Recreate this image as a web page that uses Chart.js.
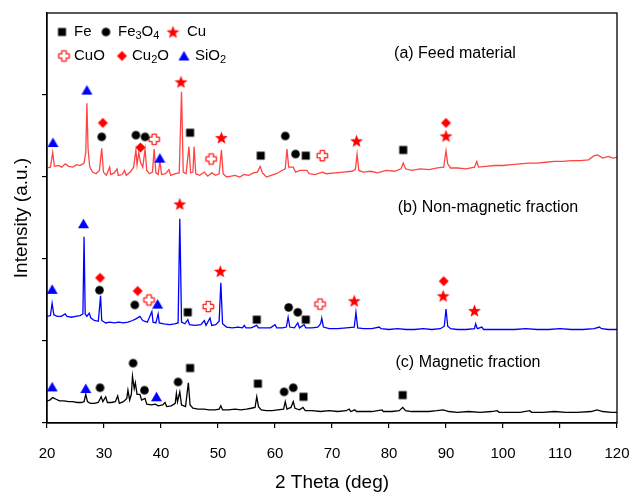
<!DOCTYPE html>
<html>
<head>
<meta charset="utf-8">
<script src="https://cdn.jsdelivr.net/npm/chart.js@4.4.1/dist/chart.umd.min.js"></script>
<style>
  html, body { margin: 0; padding: 0; background: #fff; }
  #wrap { width: 634px; height: 498px; }
</style>
</head>
<body>
<div id="wrap"><canvas id="xrdChart" width="634" height="498"></canvas></div>
<script>
// (a) feed material - 2theta / intensity (offset, a.u.)
const feedTheta = [20.0,20.6,21.0,21.3,22.0,22.6,23.2,23.8,24.5,25.2,25.8,26.5,26.8,27.0,27.2,27.5,28.0,28.6,29.2,29.6,29.9,30.4,31.0,31.2,31.8,32.3,32.5,33.2,33.6,33.9,34.6,35.2,35.6,35.8,36.1,36.4,36.8,37.2,37.5,38.0,38.5,38.8,39.1,39.5,39.8,40.1,40.8,41.4,41.7,42.5,43.2,43.6,43.9,44.4,44.9,45.2,45.6,45.8,46.1,46.8,47.6,48.2,48.9,49.6,50.2,50.6,50.9,51.5,52.3,53.0,53.8,54.6,55.4,56.2,56.9,57.4,57.8,58.5,59.3,60.2,61.0,61.8,62.1,62.4,63.2,63.6,64.4,65.6,66.0,67.0,68.3,69.0,70.5,72.0,73.5,74.1,74.4,74.7,75.5,76.8,78.0,79.5,81.0,82.1,82.5,82.9,84.0,85.5,87.0,88.5,89.6,90.0,90.3,90.8,92.0,93.5,95.0,95.4,95.7,97.0,98.5,100.0,101.5,103.0,104.5,106.0,107.5,109.0,110.5,112.0,113.5,115.0,116.0,116.6,117.5,118.5,119.3,120.0];
const feedIntensity = [3.11,3.12,3.30,3.13,3.14,3.12,3.16,3.13,3.12,3.15,3.14,3.17,3.30,3.90,3.35,3.12,3.06,3.04,3.08,3.35,3.06,3.02,3.12,3.03,3.05,3.10,3.02,3.03,3.08,3.02,3.06,3.12,3.33,3.15,3.30,3.18,3.12,3.34,3.08,3.04,3.06,3.34,3.05,3.03,3.20,3.03,3.04,3.09,3.02,3.04,3.05,4.04,3.06,3.04,3.37,3.05,3.06,3.37,3.04,3.02,3.06,3.01,3.05,3.02,3.04,3.33,3.04,3.00,3.01,3.02,3.00,3.03,3.02,3.05,3.06,3.13,3.05,3.00,3.02,3.04,3.07,3.10,3.34,3.12,3.12,3.06,3.08,3.08,3.04,3.03,3.06,3.04,3.05,3.06,3.07,3.09,3.28,3.08,3.06,3.07,3.05,3.08,3.07,3.10,3.17,3.10,3.08,3.10,3.09,3.11,3.12,3.32,3.16,3.11,3.11,3.10,3.12,3.19,3.12,3.13,3.14,3.14,3.15,3.16,3.17,3.17,3.18,3.19,3.19,3.20,3.20,3.21,3.26,3.27,3.23,3.25,3.23,3.24];

// (b) non-magnetic fraction
const nonMagTheta = [20.0,20.6,20.9,21.2,21.8,22.5,23.2,23.5,24.3,25.0,25.8,26.3,26.5,26.7,27.0,27.4,27.7,28.3,29.0,29.4,29.6,30.3,31.0,31.8,32.6,33.4,34.2,35.0,35.6,36.3,36.8,37.6,38.4,38.6,39.1,39.5,39.7,40.5,41.5,42.4,43.0,43.3,43.6,44.2,44.7,45.0,46.0,47.0,47.6,47.9,48.6,48.9,49.6,50.2,50.5,50.8,51.5,52.5,53.5,54.3,54.6,54.9,55.8,56.8,57.1,58.2,59.2,60.0,60.3,61.3,62.0,62.3,62.6,63.4,64.0,64.3,65.1,65.4,66.5,67.5,68.0,68.2,68.5,69.5,71.0,72.5,73.9,74.2,74.5,75.5,77.0,78.3,78.6,80.0,81.5,83.0,84.5,86.0,87.5,89.0,89.7,90.0,90.3,90.8,92.0,93.5,95.0,95.2,95.5,96.3,96.6,98.0,100.0,102.0,104.0,106.0,108.0,110.0,112.0,114.0,116.0,116.9,117.3,118.5,120.0];
const nonMagIntensity = [1.30,1.31,1.46,1.32,1.30,1.30,1.33,1.30,1.29,1.30,1.31,1.33,2.27,1.33,1.30,1.34,1.28,1.25,1.24,1.55,1.25,1.22,1.23,1.22,1.23,1.22,1.23,1.25,1.27,1.30,1.25,1.23,1.36,1.23,1.22,1.33,1.22,1.21,1.20,1.21,1.22,2.49,1.23,1.21,1.26,1.20,1.19,1.20,1.25,1.19,1.28,1.19,1.20,1.24,1.71,1.21,1.17,1.16,1.17,1.16,1.19,1.16,1.16,1.19,1.16,1.16,1.16,1.20,1.16,1.16,1.17,1.29,1.17,1.16,1.22,1.16,1.20,1.16,1.16,1.17,1.21,1.28,1.17,1.15,1.15,1.16,1.17,1.35,1.16,1.15,1.15,1.17,1.15,1.14,1.15,1.14,1.14,1.15,1.14,1.15,1.18,1.39,1.18,1.15,1.14,1.14,1.15,1.21,1.15,1.17,1.14,1.14,1.14,1.14,1.15,1.14,1.14,1.15,1.14,1.14,1.15,1.17,1.15,1.14,1.14];

// (c) magnetic fraction
const magTheta = [20.0,20.5,21.0,21.6,22.2,23.0,23.8,24.5,25.3,26.0,26.5,26.8,27.1,27.6,28.3,29.0,29.5,29.8,30.3,30.6,31.3,32.0,32.4,32.7,33.4,34.0,34.2,34.5,34.8,35.0,35.3,35.5,35.8,36.3,36.6,37.2,37.5,38.3,39.0,39.5,40.3,40.7,41.0,41.8,42.5,42.7,42.9,43.3,43.6,44.3,44.8,45.1,45.6,46.5,47.5,48.5,49.5,50.2,50.5,50.8,51.8,53.0,54.0,55.0,55.8,56.5,56.8,57.1,57.6,58.5,59.5,60.5,61.5,61.8,62.1,62.8,63.2,63.5,64.3,64.9,65.3,66.5,68.0,69.5,71.0,72.5,73.0,73.3,74.0,74.3,75.5,77.0,78.8,79.0,80.5,81.8,82.4,82.9,84.0,85.5,87.0,88.4,89.5,90.5,92.0,94.0,96.0,98.0,99.0,99.3,101.0,103.0,104.7,105.0,107.0,109.0,111.0,113.0,115.5,116.5,117.5,119.0,120.0];
const magIntensity = [0.27,0.28,0.31,0.29,0.27,0.27,0.26,0.26,0.25,0.25,0.26,0.35,0.26,0.24,0.24,0.25,0.32,0.26,0.32,0.25,0.25,0.26,0.33,0.24,0.26,0.30,0.40,0.28,0.35,0.57,0.42,0.49,0.35,0.35,0.28,0.30,0.23,0.22,0.23,0.21,0.22,0.25,0.20,0.21,0.24,0.36,0.26,0.38,0.22,0.20,0.49,0.22,0.18,0.17,0.17,0.16,0.16,0.17,0.21,0.16,0.16,0.17,0.16,0.17,0.18,0.19,0.32,0.20,0.16,0.15,0.15,0.16,0.17,0.26,0.17,0.19,0.26,0.18,0.16,0.19,0.15,0.15,0.14,0.15,0.14,0.15,0.17,0.14,0.16,0.14,0.14,0.14,0.16,0.14,0.14,0.15,0.19,0.15,0.14,0.14,0.14,0.15,0.16,0.14,0.13,0.14,0.13,0.14,0.15,0.13,0.13,0.13,0.15,0.13,0.13,0.14,0.13,0.13,0.14,0.16,0.14,0.13,0.13];

// phase markers [2theta, height]
const fePeaks = [[45.1,3.54],[57.5,3.26],[65.4,3.26],[82.5,3.33],[44.7,1.35],[56.8,1.26],[65.4,1.26],[45.1,0.67],[57.0,0.48],[65.0,0.32],[82.4,0.34]];
const fe3o4Peaks = [[29.6,3.49],[35.6,3.51],[37.2,3.49],[61.8,3.50],[63.6,3.28],[29.2,1.62],[35.4,1.44],[62.4,1.41],[64.0,1.35],[29.3,0.43],[35.1,0.73],[37.1,0.40],[43.0,0.50],[61.6,0.38],[63.2,0.43]];
const cuPeaks = [[43.5,4.16],[50.6,3.48],[74.3,3.44],[90.0,3.50],[43.3,2.67],[50.4,1.85],[73.9,1.49],[89.5,1.55],[95.0,1.37]];
const cuoPeaks = [[38.8,3.46],[48.8,3.22],[68.3,3.26],[37.9,1.50],[48.3,1.42],[67.9,1.45]];
const cu2oPeaks = [[29.8,3.66],[36.4,3.36],[90.0,3.66],[29.3,1.77],[35.9,1.61],[89.6,1.73]];
const sio2Peaks = [[21.05,3.42],[27.0,4.06],[39.8,3.23],[20.9,1.63],[26.4,2.43],[39.4,1.45],[20.9,0.44],[26.8,0.42],[39.2,0.32]];

const xTicks = [20,30,40,50,60,70,80,90,100,110,120];

const FONT = '"Liberation Sans", Arial, sans-serif';

function toXY(xs, ys) {
    return xs.map(function (x, i) { return { x: x, y: ys[i] }; });
}
function pairs(arr) {
    return arr.map(function (p) { return { x: p[0], y: p[1] }; });
}

// marker pictures, used both on the plot and in the legend
function makeMarker(kind) {
    var c = document.createElement('canvas');
    c.width = 15; c.height = 15;
    var g = c.getContext('2d');
    var m = 7.5;
    if (kind === 'square') {
        g.fillStyle = '#000';
        g.fillRect(m - 4, m - 4, 8, 8);
    } else if (kind === 'circle') {
        g.fillStyle = '#000';
        g.beginPath(); g.arc(m, m, 4.3, 0, Math.PI * 2); g.fill();
    } else if (kind === 'star') {
        g.fillStyle = '#ff0000';
        g.beginPath();
        for (var i = 0; i < 10; i++) {
            var r = i % 2 === 0 ? 6.8 : 2.8;
            var a = -Math.PI / 2 + i * Math.PI / 5;
            var px = m + r * Math.cos(a), py = m + 0.6 + r * Math.sin(a);
            if (i === 0) g.moveTo(px, py); else g.lineTo(px, py);
        }
        g.closePath(); g.fill();
    } else if (kind === 'diamond') {
        g.fillStyle = '#ff0000';
        g.beginPath();
        g.moveTo(m, m - 5); g.lineTo(m + 5, m); g.lineTo(m, m + 5); g.lineTo(m - 5, m);
        g.closePath(); g.fill();
    } else if (kind === 'triangle') {
        g.fillStyle = '#0000ff';
        g.beginPath();
        g.moveTo(m, m - 5); g.lineTo(m + 5.5, m + 4.5); g.lineTo(m - 5.5, m + 4.5);
        g.closePath(); g.fill();
    } else if (kind === 'cross') {
        g.strokeStyle = '#ff2020';
        g.fillStyle = '#fff';
        g.lineWidth = 1.3;
        g.lineJoin = 'round';
        var a1 = 2.2, a2 = 5.2;
        g.beginPath();
        g.moveTo(m - a1, m - a2); g.lineTo(m + a1, m - a2); g.lineTo(m + a1, m - a1);
        g.lineTo(m + a2, m - a1); g.lineTo(m + a2, m + a1); g.lineTo(m + a1, m + a1);
        g.lineTo(m + a1, m + a2); g.lineTo(m - a1, m + a2); g.lineTo(m - a1, m + a1);
        g.lineTo(m - a2, m + a1); g.lineTo(m - a2, m - a1); g.lineTo(m - a1, m - a1);
        g.closePath(); g.fill(); g.stroke();
    }
    return c;
}

var markers = {
    square: makeMarker('square'),
    circle: makeMarker('circle'),
    star: makeMarker('star'),
    diamond: makeMarker('diamond'),
    triangle: makeMarker('triangle'),
    cross: makeMarker('cross')
};

function traceSet(label, data, color) {
    return {
        label: label,
        data: data,
        showLine: true,
        borderColor: color,
        borderWidth: 1.3,
        pointRadius: 0,
        tension: 0,
        order: 2
    };
}
function markerSet(label, data, img) {
    return {
        label: label,
        data: data,
        showLine: false,
        pointStyle: img,
        pointRadius: 6,
        order: 1
    };
}

// draws a formula with subscripts, parts = [[text, isSub], ...]
function drawFormula(ctx, parts, x, y) {
    var cx = x;
    parts.forEach(function (p) {
        ctx.font = (p[1] ? '11px ' : '15px ') + FONT;
        ctx.fillText(p[0], cx, p[1] ? y + 4 : y);
        cx += ctx.measureText(p[0]).width;
    });
}

var decorPlugin = {
    id: 'decor',
    afterDraw: function (chart) {
        var ctx = chart.ctx;
        var area = chart.chartArea;
        ctx.save();
        // frame
        ctx.strokeStyle = '#000';
        ctx.lineWidth = 1.3;
        ctx.strokeRect(area.left, area.top, area.right - area.left, area.bottom - area.top);

        // legend
        ctx.fillStyle = '#000';
        ctx.textBaseline = 'middle';
        ctx.textAlign = 'left';
        function mk(img, x, y) { ctx.drawImage(img, x - img.width / 2, y - img.height / 2); }
        mk(markers.square, 62, 32);
        drawFormula(ctx, [['Fe', 0]], 74, 32);
        mk(markers.circle, 106, 32);
        drawFormula(ctx, [['Fe', 0], ['3', 1], ['O', 0], ['4', 1]], 118, 32);
        mk(markers.star, 173, 32);
        drawFormula(ctx, [['Cu', 0]], 187, 32);
        mk(markers.cross, 64, 56);
        drawFormula(ctx, [['CuO', 0]], 74, 56);
        mk(markers.diamond, 122, 56);
        drawFormula(ctx, [['Cu', 0], ['2', 1], ['O', 0]], 132, 56);
        mk(markers.triangle, 184, 56);
        drawFormula(ctx, [['SiO', 0], ['2', 1]], 195, 56);

        // pattern labels
        ctx.font = '16px ' + FONT;
        ctx.textAlign = 'center';
        ctx.fillText('(a) Feed material', 455, 54);
        ctx.fillText('(b) Non-magnetic fraction', 488, 208);
        ctx.fillText('(c) Magnetic fraction', 468, 363);

        // axis titles
        ctx.font = '19px ' + FONT;
        ctx.fillText('2 Theta (deg)', (area.left + area.right) / 2, 483);
        ctx.translate(22, (area.top + area.bottom) / 2);
        ctx.rotate(-Math.PI / 2);
        ctx.fillText('Intensity (a.u.)', 0, 0);
        ctx.restore();
    }
};

document.addEventListener('DOMContentLoaded', function () {
    var ctx = document.getElementById('xrdChart').getContext('2d');
    var chart = new Chart(ctx, {
        type: 'scatter',
        data: {
            datasets: [
                traceSet('(a) Feed material', toXY(feedTheta, feedIntensity), '#ff4444'),
                traceSet('(b) Non-magnetic fraction', toXY(nonMagTheta, nonMagIntensity), '#0000ff'),
                traceSet('(c) Magnetic fraction', toXY(magTheta, magIntensity), '#000000'),
                markerSet('Fe', pairs(fePeaks), markers.square),
                markerSet('Fe3O4', pairs(fe3o4Peaks), markers.circle),
                markerSet('Cu', pairs(cuPeaks), markers.star),
                markerSet('CuO', pairs(cuoPeaks), markers.cross),
                markerSet('Cu2O', pairs(cu2oPeaks), markers.diamond),
                markerSet('SiO2', pairs(sio2Peaks), markers.triangle)
            ]
        },
        options: {
            responsive: false,
            animation: false,
            layout: { padding: { left: 0, top: 13, right: 17, bottom: 0 } },
            plugins: {
                legend: { display: false },
                tooltip: { enabled: false }
            },
            scales: {
                x: {
                    type: 'linear',
                    min: 20,
                    max: 120,
                    afterBuildTicks: function (scale) {
                        scale.ticks = xTicks.map(function (v) { return { value: v }; });
                    },
                    ticks: { color: '#000', padding: 17, font: { size: 15, family: FONT }, maxRotation: 0 },
                    grid: { drawOnChartArea: false, drawTicks: true, tickLength: 5, color: '#000', lineWidth: 1.2 },
                    border: { color: '#000', width: 1.3 },
                    afterFit: function (scale) {
                        scale.height = 75;
                        scale.paddingLeft = 0;
                        scale.paddingRight = 0;
                    }
                },
                y: {
                    min: 0,
                    max: 5,
                    ticks: { display: false, stepSize: 1 },
                    grid: {
                        drawOnChartArea: false, drawTicks: true, tickLength: 5, lineWidth: 1.2,
                        color: function (c) { return c.tick && c.tick.value === 5 ? 'rgba(0,0,0,0)' : '#000'; }
                    },
                    border: { color: '#000', width: 1.3 },
                    afterFit: function (scale) {
                        scale.width = 47;
                        scale.paddingTop = 0;
                        scale.paddingBottom = 0;
                    }
                }
            }
        },
        plugins: [decorPlugin]
    });
});
</script>
</body>
</html>
